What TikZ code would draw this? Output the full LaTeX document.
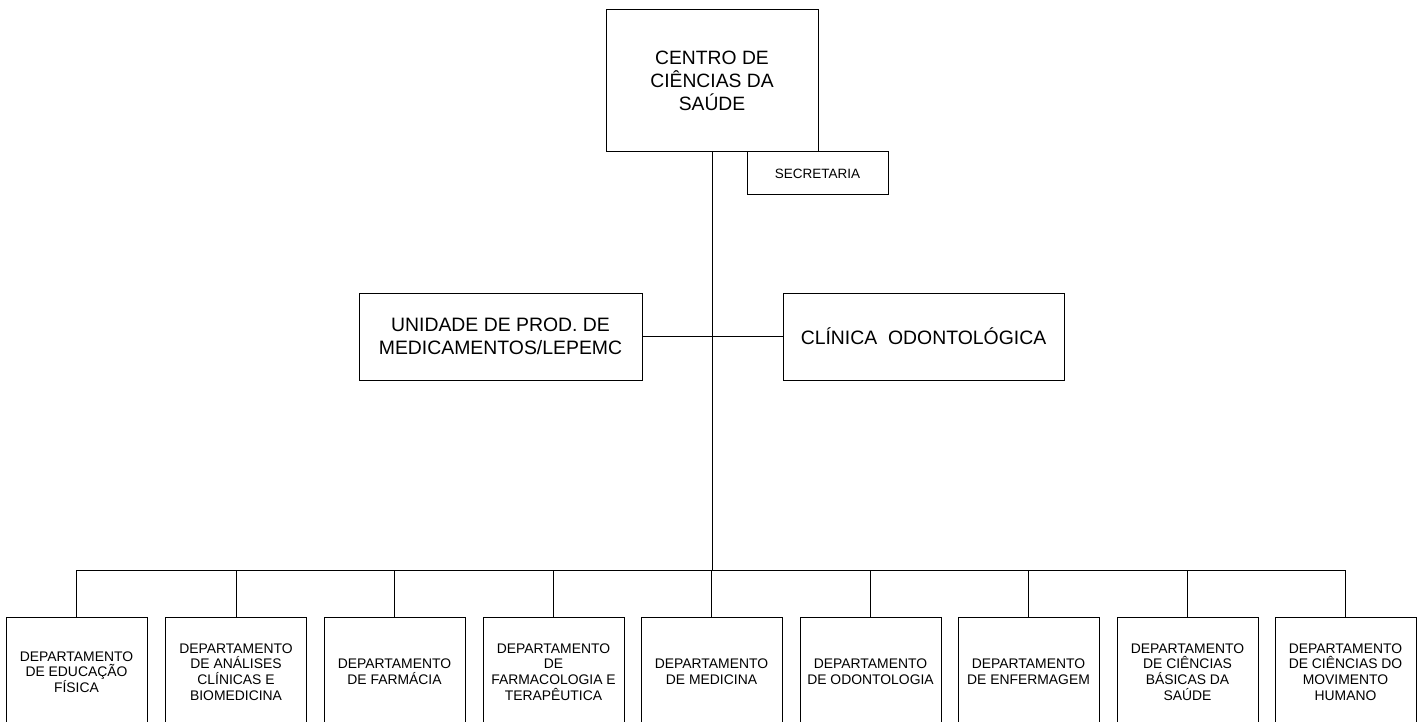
\documentclass[tikz,border=0pt]{standalone}
\usepackage{fontspec}
\setmainfont{Liberation Sans}
\begin{document}
\begin{tikzpicture}[x=1pt,y=-1pt,
  box/.style={draw, line width=1pt, inner sep=0pt, align=center, rectangle},
  dept/.style={box, minimum width=141pt, minimum height=110pt, font=\fontsize{13.9}{15.7}\selectfont},
  conn/.style={line width=1pt}]
\useasboundingbox (0,0) rectangle (1426,722);
\clip (0,0) rectangle (1426,722);
\node[box, minimum width=212pt, minimum height=142pt, font=\fontsize{19.3}{23}\selectfont] (ccs) at (712,81) {CENTRO DE\\CIÊNCIAS DA\\SAÚDE};
\node[box, minimum width=141pt, minimum height=43pt, font=\fontsize{13.5}{15}\selectfont] (sec) at (817.5,173.5) {SECRETARIA};
\node[box, minimum width=283pt, minimum height=87pt, font=\fontsize{19.4}{23}\selectfont] (uni) at (500.5,336.5) {\raisebox{0pt}[\height][\depth]{}UNIDADE DE PROD. DE\\MEDICAMENTOS/LEPEMC};
\node[box, minimum width=281pt, minimum height=87pt, font=\fontsize{19.4}{23}\selectfont] (cli) at (923.5,336.5) {CLÍNICA\ \ ODONTOLÓGICA};
\node[dept] (d1) at (76.5,672) {DEPARTAMENTO\\DE EDUCAÇÃO\\FÍSICA};
\node[dept] (d2) at (236,672) {DEPARTAMENTO\\DE ANÁLISES\\CLÍNICAS E\\BIOMEDICINA};
\node[dept] (d3) at (394.5,672) {DEPARTAMENTO\\DE FARMÁCIA};
\node[dept] (d4) at (553.5,672) {DEPARTAMENTO\\DE\\FARMACOLOGIA E\\TERAPÊUTICA};
\node[dept] (d5) at (711.5,672) {DEPARTAMENTO\\DE MEDICINA};
\node[dept] (d6) at (870.5,672) {DEPARTAMENTO\\DE ODONTOLOGIA};
\node[dept] (d7) at (1028.5,672) {DEPARTAMENTO\\DE ENFERMAGEM};
\node[dept] (d8) at (1187.5,672) {DEPARTAMENTO\\DE CIÊNCIAS\\BÁSICAS DA\\SAÚDE};
\node[dept] (d9) at (1345.5,672) {DEPARTAMENTO\\DE CIÊNCIAS DO\\MOVIMENTO\\HUMANO};
\coordinate (bus) at (712,570);
\draw[conn] (ccs.south) -- (bus);
\draw[conn] (uni.east) -- (cli.west);
\draw[conn] (d1.north) -- (d1.north |- bus) -- (d9.north |- bus) -- (d9.north);
\foreach \d in {d2,d3,d4,d5,d6,d7,d8}{\draw[conn] (\d.north) -- (\d.north |- bus);}
\end{tikzpicture}
\end{document}
